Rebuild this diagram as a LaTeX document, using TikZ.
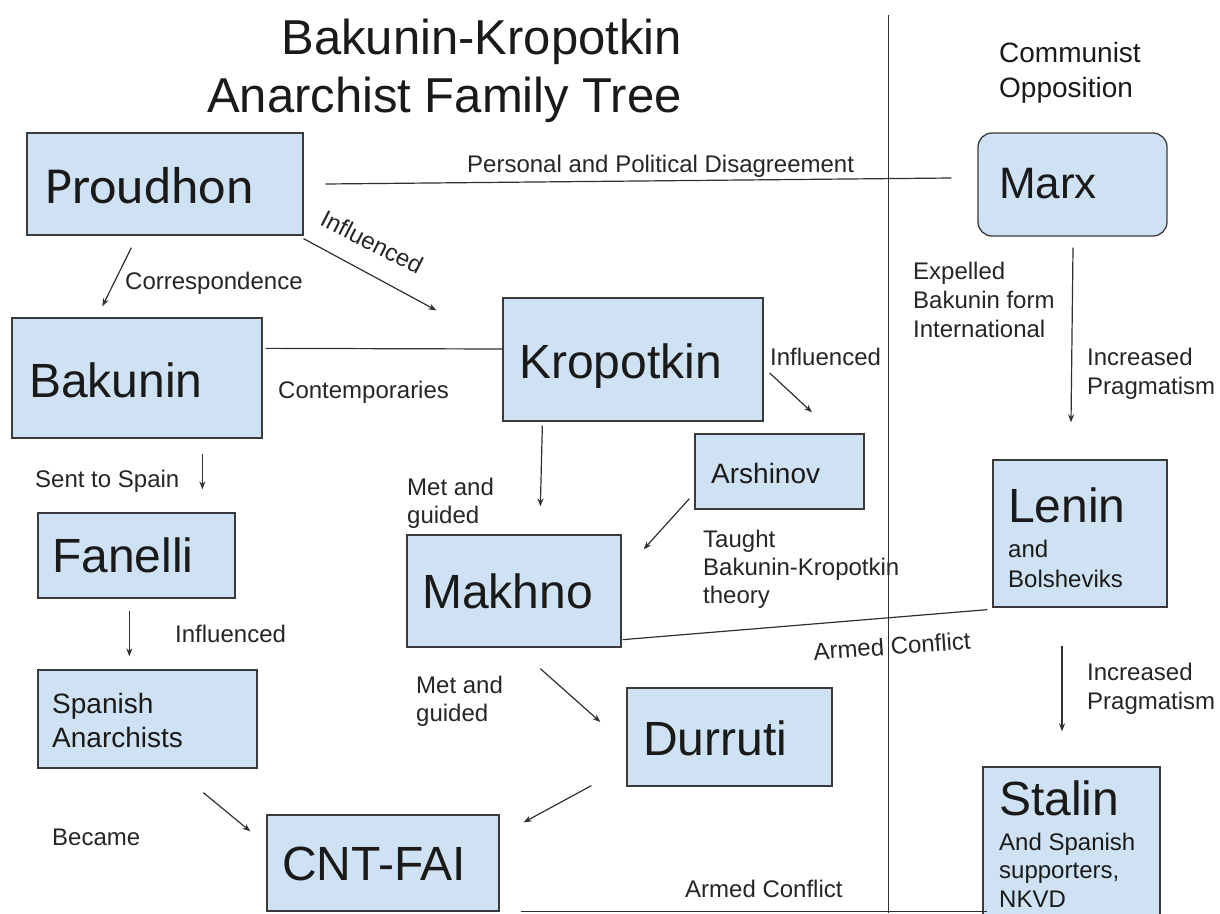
\documentclass[tikz,border=0pt]{standalone}
\usepackage{fontspec}
\setmainfont{Liberation Sans}
\newfontfamily\carl{Carlito}
\usetikzlibrary{arrows.meta,calc}
\definecolor{boxfill}{HTML}{CFE2F3}
\definecolor{boxline}{HTML}{3A3A3A}
\definecolor{lncol}{HTML}{303030}
\definecolor{txt}{HTML}{1A1A1A}
\definecolor{lbltxt}{HTML}{262626}
\begin{document}
\begin{tikzpicture}[x=1pt,y=-1pt,
  box/.style={draw=boxline, fill=boxfill, line width=1.3pt, inner sep=0pt},
  big/.style={font=\fontsize{48}{54}\selectfont, text=txt, inner sep=0pt, anchor=base west},
  mid/.style={font=\fontsize{28}{34}\selectfont, text=txt, inner sep=0pt, anchor=base west},
  sub/.style={font=\fontsize{24}{29}\selectfont, text=txt, inner sep=0pt, anchor=base west},
  lbl/.style={font=\fontsize{24}{28.5}\selectfont, text=lbltxt, inner sep=0pt, anchor=base west, align=left},
  conn/.style={draw=lncol, line width=1.2pt},
  arr/.style={conn, -{Stealth[length=8pt,width=6pt]}},
]
\useasboundingbox (0,0) rectangle (1220,913);
\fill[white] (0,0) rectangle (1220,913);

% divider
\draw[conn, line width=1pt] (888,15) -- (888,913);

% boxes
\node[box, minimum width=276, minimum height=102] (proudhon) at (165,184) {};
\node[box, rounded corners=14pt, minimum width=189, minimum height=103] (marx) at (1072.5,184.5) {};
\node[box, minimum width=250, minimum height=120] (bakunin) at (137,378) {};
\node[box, minimum width=260, minimum height=123] (kropotkin) at (633,359.5) {};
\node[box, minimum width=169, minimum height=75] (arshinov) at (779.5,471.5) {};
\node[box, minimum width=197, minimum height=85] (fanelli) at (136.5,555.5) {};
\node[box, minimum width=214, minimum height=112] (makhno) at (514,591) {};
\node[box, minimum width=174, minimum height=147] (lenin) at (1080,533.5) {};
\node[box, minimum width=219, minimum height=98] (spanish) at (147.5,719) {};
\node[box, minimum width=205, minimum height=98] (durruti) at (729.5,737) {};
\node[box, minimum width=232, minimum height=96] (cnt) at (383,863) {};
\node[box, minimum width=177, minimum height=168] (stalin) at (1071.5,851) {};

% box texts
\node[big, font=\carl\fontsize{52}{56}\selectfont] (tproudhon) at (45,203) {Proudhon};
\node[big, font=\fontsize{44}{50}\selectfont] (tmarx) at (999,198) {Marx};
\node[big] (tbakunin) at (29,397) {Bakunin};
\node[big] (tkropotkin) at (519,378) {Kropotkin};
\node[mid] (tarshinov) at (711,483) {Arshinov};
\node[big] (tfanelli) at (52,572) {Fanelli};
\node[big] (tmakhno) at (422,608) {Makhno};
\node[big] (tlenin) at (1008,522) {Lenin};
\node[sub] (tand) at (1008,557) {and};
\node[sub] (tbolsh) at (1008,587) {Bolsheviks};
\node[mid] (tspanish1) at (52,713) {Spanish};
\node[mid] (tspanish2) at (52,747) {Anarchists};
\node[big] (tdurruti) at (643,755) {Durruti};
\node[big] (tcnt) at (282,880) {CNT-FAI};
\node[big] (tstalin) at (999,815) {Stalin};
\node[sub] (tst1) at (999,850) {And Spanish};
\node[sub] (tst2) at (999,878) {supporters,};
\node[sub] (tst3) at (999,907) {NKVD};

% title and headings
\node[font=\fontsize{49}{55}\selectfont, text=txt, inner sep=0pt, anchor=base east] (title1) at (682,54) {Bakunin-Kropotkin};
\node[font=\fontsize{49}{55}\selectfont, text=txt, inner sep=0pt, anchor=base east] (title2) at (682,112) {Anarchist Family Tree};
\node[mid] (comm1) at (999,62) {Communist};
\node[mid] (comm2) at (999,97) {Opposition};

% connectors
\draw[arr] ($(proudhon.south west)+(105,12)$) -- ($(bakunin.north west)+(91,-11)$);
\draw[arr] ($(proudhon.south east)+(0,3)$) -- ($(kropotkin.north west)+(-66,13)$);
\draw[conn] ($(proudhon.east)+(22,0)$) -- ($(marx.west)+(-26,-6.5)$);
\draw[conn] ($(bakunin.north east)+(3,31)$) -- ($(kropotkin.west)+(0,-10.5)$);
\draw[arr] ($(kropotkin.east)+(6,13.5)$) -- ($(arshinov.north)+(32.5,-21)$);
\draw[arr] ($(kropotkin.south west)+(40,4)$) -- ($(makhno.north west)+(134,-28)$);
\draw[arr] ($(arshinov.south west)+(-5,-11)$) -- ($(makhno.north east)+(22,15)$);
\draw[conn] ($(makhno.south east)+(1,-8)$) -- ($(lenin.south west)+(-5,2)$);
\draw[arr] ($(makhno.south west)+(134,21)$) -- ($(durruti.west)+(-26,-15)$);
\draw[arr] ($(durruti.south west)+(-35,-1)$) -- ($(cnt.north east)+(24,8)$);
\draw[arr] ($(spanish.south west)+(166,24)$) -- ($(cnt.north west)+(-16,17)$);
\draw[arr] ($(fanelli.south west)+(92,12)$) -- ($(spanish.north west)+(92,-13)$);
\draw[arr] ($(bakunin.south west)+(191,15)$) -- ($(fanelli.north west)+(165,-23)$);
\draw[arr] ($(marx.south)+(0.5,11)$) -- ($(lenin.north)+(-9,-37)$);
\draw[arr] ($(lenin.south)+(-18,38)$) -- ($(stalin.north)+(-9.5,-35)$);
\draw[conn] ($(cnt.south east)+(21,0)$) -- ($(stalin.west |- cnt.south east)+(5,0)$);

% labels
\node[lbl] (lpers) at (467,172) {Personal and Political Disagreement};
\node[lbl] (lcorr) at (125,289) {Correspondence};
\node[lbl, anchor=center, rotate=-27] (linfl1) at (372,242) {Influenced};
\node[lbl] (lcont) at (278,398) {Contemporaries};
\node[lbl] (linfl2) at (770,365) {Influenced};
\node[lbl] (lmet1a) at (407,495) {Met and};
\node[lbl] (lmet1b) at (407,523) {guided};
\node[lbl] (ltau1) at (703,547) {Taught};
\node[lbl] (ltau2) at (703,575) {Bakunin-Kropotkin};
\node[lbl] (ltau3) at (703,603) {theory};
\node[lbl] (lexp1) at (913,279) {Expelled};
\node[lbl] (lexp2) at (913,308) {Bakunin form};
\node[lbl] (lexp3) at (913,337) {International};
\node[lbl] (linc1a) at (1087,365) {Increased};
\node[lbl] (linc1b) at (1087,394) {Pragmatism};
\node[lbl] (linc2a) at (1087,680) {Increased};
\node[lbl] (linc2b) at (1087,709) {Pragmatism};
\node[lbl] (lsent) at (35,487) {Sent to Spain};
\node[lbl] (linfl3) at (175,642) {Influenced};
\node[lbl] (lbecame) at (52,845) {Became};
\node[lbl] (lmet2a) at (416,693) {Met and};
\node[lbl] (lmet2b) at (416,721) {guided};
\node[lbl, anchor=center, rotate=4] (larm1) at (892,646) {Armed Conflict};
\node[lbl] (larm2) at (685,897) {Armed Conflict};
\end{tikzpicture}
\end{document}
